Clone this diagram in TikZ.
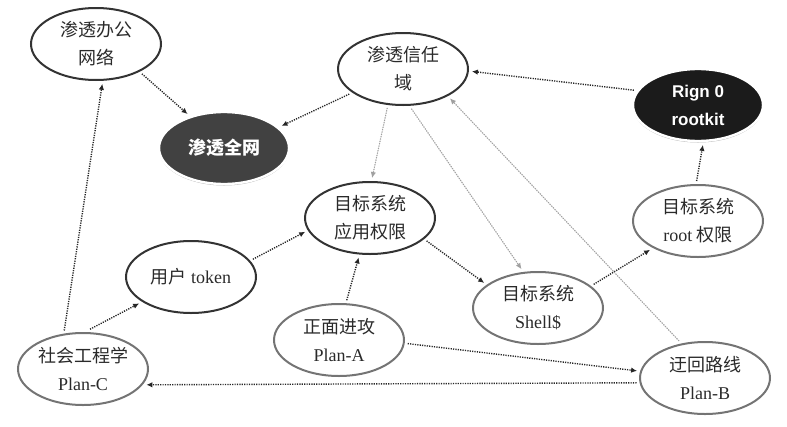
\documentclass[tikz,border=0pt]{standalone}
\usepackage{fontspec}
\setmainfont{Liberation Serif}
\newfontfamily\cjk{Noto Sans CJK SC}
\newfontfamily\arialfont{Liberation Sans}
\usepackage{tikz}
\usetikzlibrary{arrows.meta,%
                shapes.geometric,shadows}

\definecolor{ringdark}{HTML}{333333}
\definecolor{ringgray}{HTML}{747474}
\definecolor{textgray}{HTML}{2A2A2A}
\definecolor{linkgray}{HTML}{A0A0A0}
\definecolor{corefill}{HTML}{414141}
\definecolor{kitfill}{HTML}{1B1B1B}

\begin{document}
\begin{tikzpicture}[x=1pt,y=-1pt,
  goal/.style={ellipse,draw=ringdark,line width=2pt,minimum width=130pt,
    minimum height=72pt,inner sep=0pt,outer sep=4pt,align=center,
    text=textgray,font=\cjk\fontsize{18}{28}\selectfont},
  plan/.style={goal,draw=ringgray},
  core/.style={goal,draw=white,line width=2.4pt,text=white,
    drop shadow={shadow xshift=0pt,shadow yshift=-1.5pt,fill=black!45,opacity=.7}},
  link/.style={-{Latex[length=6pt,width=5.5pt]},line width=1.4pt,
    dash pattern=on 1.2pt off 1.2pt,black!85},
  hint/.style={link,draw=linkgray,fill=linkgray,line width=1.1pt}]
\useasboundingbox (0,0) rectangle (787,426);
% targets
\node[goal] (office) at (96,44) {渗透办公\\网络};
\node[core,fill=corefill,font=\cjk\bfseries\fontsize{18}{28}\selectfont] (whole) at (224,148) {渗透全网};
\node[goal] (trust) at (403,69) {渗透信任\\域};
\node[core,fill=kitfill,font=\arialfont\bfseries\fontsize{17}{28}\selectfont] (rootkit) at (698,105) {Rign 0\\rootkit};
\node[goal] (app) at (370,218) {目标系统\\应用权限};
\node[plan] (rootperm) at (698,221) {目标系统\\{\rmfamily root} 权限};
\node[goal] (token) at (191,277) {用户 {\rmfamily token}};
\node[plan] (shell) at (538,308) {目标系统\\{\rmfamily Shell\$}};
% plans
\node[plan] (planA) at (339,340) {正面进攻\\{\rmfamily Plan-A}};
\node[plan] (planC) at (83,369) {社会工程学\\{\rmfamily Plan-C}};
\node[plan] (planB) at (705,378) {迂回路线\\{\rmfamily Plan-B}};
% links
\draw[link] (office.-33) -- (whole.137);
\draw[link] (trust.-155) -- (whole.21);
\draw[link] (rootkit.167) -- (trust.-2);
\draw[link] (rootperm.92) -- (rootkit.-83);
\draw[link] (shell.23) -- (rootperm.-149);
\draw[link] (app.-22) -- (shell.155);
\draw[hint] (trust.-78) -- (shell.113);
\draw[hint] (trust.-112) -- (app.87);
\draw[hint] (planB.125) -- (trust.-32);
\draw[link] (token.16) -- (app.-168);
\draw[link] (planA.79) -- (app.-106);
\draw[link] (planA.-3) -- (planB.174);
\draw[link] (planB.-176) -- (planC.-14);
\draw[link] (planC.80) -- (token.-153);
\draw[link] (planC.116) -- (office.-81);
\end{tikzpicture}
\end{document}
